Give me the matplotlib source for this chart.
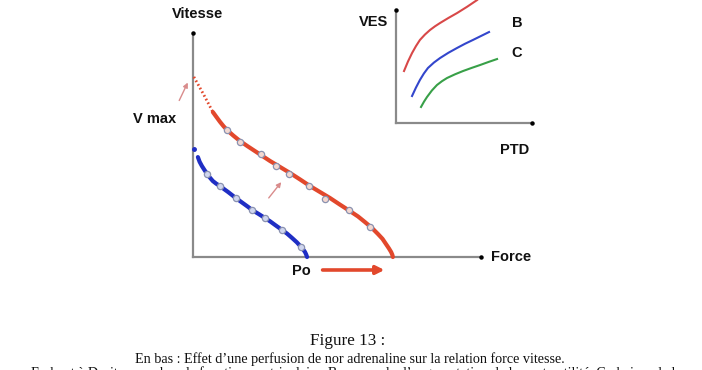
import matplotlib
matplotlib.use("Agg")
import matplotlib.pyplot as plt

# ---------------- data (main panel: Force vs Vitesse, arbitrary units 0..100) -----
red_line_x = [6.9, 8.2, 9.4, 10.6, 11.8, 14.0, 16.3, 18.9, 21.5, 24.1, 26.7, 30.2, 33.7, 37.2, 40.6,
              44.1, 47.6, 51.0, 54.5, 57.3, 59.7, 62.1, 64.2, 65.8, 67.0, 68.0, 68.8, 69.2, 69.4]
red_line_y = [64.7, 62.4, 60.3, 58.4, 56.7, 54.2, 51.8, 49.5, 47.3, 45.1, 42.9, 40.2, 37.5, 34.6, 31.7,
              29.0, 26.3, 23.4, 20.5, 18.1, 15.6, 13.0, 10.3, 8.1, 5.8, 3.9, 2.2, 1.0, 0.0]
red_dot_x = [0.3, 3.8, 6.9]
red_dot_y = [80.4, 72.3, 64.7]
red_pts_x = [11.8, 16.3, 23.6, 28.8, 33.3, 40.3, 45.8, 54.2, 61.5]
red_pts_y = [56.7, 51.3, 46.0, 40.6, 37.1, 31.7, 25.9, 21.0, 13.4]

blue_line_x = [1.7, 2.3, 3.1, 4.0, 4.9, 5.9, 6.9, 8.1, 9.4, 10.8, 12.2, 13.6, 14.9, 16.3, 17.7, 19.1, 20.5,
               22.8, 25.0, 26.8, 28.5, 30.9, 32.7, 34.4, 36.1, 37.5, 38.3, 38.9, 39.3, 39.6]
blue_line_y = [44.6, 42.5, 40.6, 38.8, 37.1, 35.4, 33.9, 32.7, 31.7, 30.3, 29.0, 27.6, 26.3, 25.0, 23.7,
               22.4, 21.0, 19.2, 17.4, 15.9, 14.3, 12.1, 10.4, 8.5, 6.5, 4.5, 3.3, 2.2, 1.1, 0.0]
blue_start = (0.3, 48.2)
blue_pts_x = [4.9, 9.4, 14.9, 20.5, 25.0, 30.9, 37.5]
blue_pts_y = [37.1, 31.7, 26.3, 21.0, 17.4, 12.1, 4.5]

# ---------------- data (inset: PTD vs VES) ----------------
ins_red_x = [5.9, 8.8, 11.8, 14.7, 17.6, 21.3, 25.0, 28.7, 32.4, 38.6, 44.9, 52.2, 59.6]
ins_red_y = [46.0, 54.4, 61.9, 68.1, 73.5, 78.3, 82.3, 85.6, 88.5, 93.0, 97.3, 102.8, 108.8]
ins_blue_x = [11.8, 14.7, 17.6, 20.5, 23.5, 27.9, 32.4, 38.6, 44.9, 50.7, 56.6, 62.5, 68.4]
ins_blue_y = [23.9, 31.4, 38.1, 43.8, 48.7, 53.5, 57.5, 62.2, 66.4, 70.1, 73.5, 77.0, 80.5]
ins_green_x = [18.4, 20.6, 22.8, 26.4, 30.1, 33.8, 37.5, 43.4, 49.3, 55.5, 61.8, 68.0, 74.3]
ins_green_y = [14.2, 18.9, 23.0, 28.8, 33.6, 37.0, 39.8, 43.1, 46.0, 48.7, 51.3, 54.0, 56.6]

caption1 = "Figure 13 :"
caption2 = "En bas : Effet d\u2019une perfusion de nor adrenaline sur la relation force vitesse."
caption3 = ("En haut \u00e0 Droite : courbes de fonction ventriculaire. B : exemple d\u2019augmentation "
            "de la contractilit\u00e9. C : baisse de la")

RED = "#e2482c"
BLUE = "#1f2ec4"
AX = "#8a8a8a"
PINK = "#d98c8c"
LBL = dict(family=["Liberation Sans", "DejaVu Sans"], fontweight="bold", fontsize=10.5, color="#111111")

W, H = 702, 370
fig = plt.figure(figsize=(W / 100, H / 100), dpi=100)
fig.patch.set_facecolor("white")


def frac(l, r, b, t):
    return [l / W, (H - b) / H, (r - l) / W, (b - t) / H]


def setup(ax):
    ax.set_xlim(0, 100)
    ax.set_ylim(0, 100)
    for s in ("top", "right"):
        ax.spines[s].set_visible(False)
    for s in ("left", "bottom"):
        ax.spines[s].set_color(AX)
        ax.spines[s].set_linewidth(1.6)
    ax.set_xticks([])
    ax.set_yticks([])
    ax.patch.set_alpha(0)
    ax.plot([0], [100], "o", color="black", ms=2.2, clip_on=False, zorder=5)
    ax.plot([100], [0], "o", color="black", ms=2.2, clip_on=False, zorder=5)


# ---------------- main panel ----------------
ax = fig.add_axes(frac(193, 481, 257, 33))
setup(ax)
ax.plot(red_line_x, red_line_y, color=RED, lw=3, solid_capstyle="round", solid_joinstyle="round",
        clip_on=False, zorder=3)
ax.plot(red_dot_x, red_dot_y, color=RED, lw=2, linestyle=(0, (0.6, 0.9)), clip_on=False, zorder=3)
ax.plot(red_pts_x, red_pts_y, "o", ms=4.5, mfc="#f4d8d0", mec="#8a92b0", mew=0.9, zorder=4)
ax.plot(blue_line_x, blue_line_y, color=BLUE, lw=3, solid_capstyle="round", solid_joinstyle="round",
        clip_on=False, zorder=3)
ax.plot([blue_start[0]], [blue_start[1]], "o", color=BLUE, ms=2.5, clip_on=False, zorder=3)
ax.plot(blue_pts_x, blue_pts_y, "o", ms=4.5, mfc="#d0d6f0", mec="#8a92b0", mew=0.9, zorder=4)

ax.annotate("", xy=(-1.4, 79.0), xytext=(-5.2, 68.75), annotation_clip=False,
            arrowprops=dict(arrowstyle="-|>", color=PINK, lw=1.0, mutation_scale=7))
ax.annotate("", xy=(31.25, 34.4), xytext=(25.7, 25.4), annotation_clip=False,
            arrowprops=dict(arrowstyle="-|>", color=PINK, lw=1.0, mutation_scale=7))
ax.annotate("", xy=(66.5, -5.8), xytext=(45.0, -5.8), annotation_clip=False,
            arrowprops=dict(arrowstyle="-|>", color=RED, lw=2.6, mutation_scale=12,
                            shrinkA=0, shrinkB=0))

ax.text(37.5, -6.3, "Po", ha="center", va="center", clip_on=False, **LBL)
ax.text(103.5, 0, "Force", ha="left", va="center", clip_on=False, **LBL)
ax.text(1.5, 108.5, "Vitesse", ha="center", va="center", clip_on=False, **LBL)
ax.text(-13.5, 61.5, "V max", ha="center", va="center", clip_on=False, **LBL)

# ---------------- inset ----------------
ai = fig.add_axes(frac(396, 532, 123, 10))
setup(ai)
ai.plot(ins_red_x, ins_red_y, color="#d84848", lw=1.5, clip_on=False)
ai.plot(ins_blue_x, ins_blue_y, color="#3346cc", lw=1.5, clip_on=False)
ai.plot(ins_green_x, ins_green_y, color="#38a048", lw=1.5, clip_on=False)
ai.text(-16.5, 89.5, "VES", ha="center", va="center", clip_on=False, **LBL)
ai.text(87.5, -23.9, "PTD", ha="center", va="center", clip_on=False, **LBL)
ai.text(89, 88.5, "B", ha="center", va="center", clip_on=False, **LBL)
ai.text(89, 61.9, "C", ha="center", va="center", clip_on=False, **LBL)

# ---------------- caption ----------------
SERIF = ["Liberation Serif", "DejaVu Serif"]
fig.text(348 / W, 1 - 345 / H, caption1, ha="center", va="baseline", family=SERIF, fontsize=12.3, color="#111111")
fig.text(350 / W, 1 - 363 / H, caption2, ha="center", va="baseline", family=SERIF, fontsize=10.2, color="#111111")
fig.text(356 / W, 1 - 377.5 / H, caption3, ha="center", va="baseline", family=SERIF, fontsize=10.2, color="#111111")

fig.savefig("out.png", dpi=100)
